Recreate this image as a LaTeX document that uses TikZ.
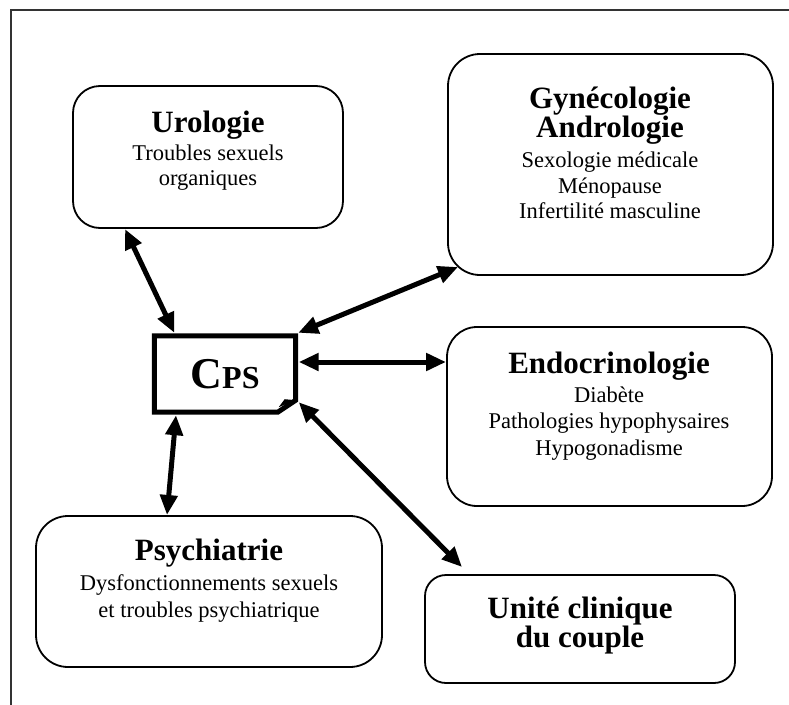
\documentclass[tikz,border=0pt]{standalone}
\usepackage{fontspec}
\setmainfont{Liberation Serif}
\usetikzlibrary{arrows.meta}
\tikzset{
  box/.style={draw, line width=1.8pt, inner sep=0pt, outer sep=0pt},
  head/.style={anchor=base, inner sep=0pt, font=\fontsize{31}{34}\selectfont\bfseries},
  body/.style={anchor=base, inner sep=0pt, font=\fontsize{22.5}{25}\selectfont},
  link/.style={line width=5pt, {Triangle[length=20pt,width=17pt]}-{Triangle[length=20pt,width=17pt]}},
  frame/.style={draw=black!80, line width=1.6pt},
  cpsline/.style={line width=5pt, line join=miter}
}
\begin{document}
\begin{tikzpicture}[x=1pt,y=-1pt]
\clip (0,0) rectangle (789,704);
\fill[white] (0,0) rectangle (789,704);
% outer frame (left and top edges visible)
\coordinate (fbl) at (11,720);
\coordinate (ftl) at (11,10);
\coordinate (ftr) at (800,10);
\draw[frame] (fbl) -- (ftl) -- (ftr);

% boxes
\node[box, rounded corners=27pt, minimum width=270pt, minimum height=142pt] (uro) at (208,157) {};
\node[box, rounded corners=32pt, minimum width=325pt, minimum height=221pt] (gyn) at (610.5,164.5) {};
\node[box, rounded corners=30pt, minimum width=325pt, minimum height=179pt] (endo) at (609.5,416.5) {};
\node[box, rounded corners=32pt, minimum width=346pt, minimum height=151pt] (psy) at (209,591.5) {};
\node[box, rounded corners=21pt, minimum width=310pt, minimum height=108pt] (uni) at (580,629) {};

% CPS
\node[inner sep=0pt, minimum width=141pt, minimum height=76pt, font=\bfseries] (cps) at (225,374)
  {{\fontsize{44}{44}\selectfont C}{\fontsize{32}{32}\selectfont PS}};
\draw[cpsline] (cps.north west) -- (cps.north east) -- ([shift={(0,-12)}]cps.south east)
  -- ([shift={(-18,0)}]cps.south east) -- (cps.south west) -- cycle;
\fill ([shift={(-17,-5)}]cps.south east) -- ([shift={(-11,-13)}]cps.south east)
  -- ([shift={(0,-12)}]cps.south east) -- cycle;

% texts
\node[head] (urot) at (208,132) {Urologie};
\node[body] (uro1) at (208,160) {Troubles sexuels};
\node[body] (uro2) at (208,185) {organiques};

\node[head] (gynt) at (610,108) {Gynécologie};
\node[head] (gynt2) at (610,137) {Andrologie};
\node[body] (gyn1) at (610,167) {Sexologie médicale};
\node[body] (gyn2) at (610,193) {Ménopause};
\node[body] (gyn3) at (610,218) {Infertilité masculine};

\node[head] (endot) at (609,373) {Endocrinologie};
\node[body] (endo1) at (609,402) {Diabète};
\node[body] (endo2) at (609,428) {Pathologies hypophysaires};
\node[body] (endo3) at (609,455) {Hypogonadisme};

\node[head] (psyt) at (209,560) {Psychiatrie};
\node[body] (psy1) at (209,590) {Dysfonctionnements sexuels};
\node[body] (psy2) at (209,617) {et troubles psychiatrique};

\node[head] (unit) at (580,618) {Unité clinique};
\node[head] (unit2) at (580,647) {du couple};

% connectors
\draw[link] ([shift={(-83,1)}]uro.south) -- ([shift={(20,-3)}]cps.north west);
\draw[link] ([shift={(10,-8)}]gyn.south west) -- ([shift={(2.5,-3)}]cps.north east);
\draw[link] ([shift={(3,-12)}]cps.east) -- ([shift={(-1,-54.5)}]endo.west);
\draw[link] ([shift={(-49,3)}]cps.south) -- ([shift={(-42,-1)}]psy.north);
\draw[link] ([shift={(3,-10)}]cps.south east) -- ([shift={(37,-8)}]uni.north west);
\end{tikzpicture}
\end{document}
